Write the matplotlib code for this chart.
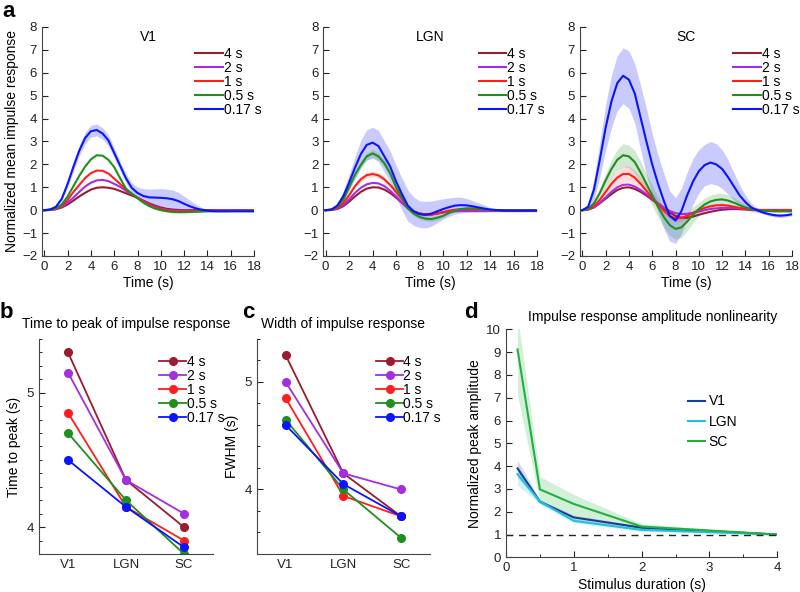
import numpy as np
import matplotlib
matplotlib.use("Agg")
import matplotlib.pyplot as plt
from matplotlib.ticker import MultipleLocator

plt.rcParams['font.family'] = ['Liberation Sans', 'DejaVu Sans']
plt.rcParams['font.size'] = 10

# ---- data -------------------------------------------------------------
durations = ['4 s', '2 s', '1 s', '0.5 s', '0.17 s']
dur_colors = ['#9b1b30', '#a52ee0', '#ff1e1e', '#1f8f1f', '#0a14ff']
t = np.arange(0, 18.5, 0.5)  # seconds, 37 samples

# panel a: mean impulse responses, one row per duration (order as durations)
v1_resp = [
    [0, 0.01, 0.04, 0.12, 0.25, 0.42, 0.6, 0.76, 0.9, 0.98,
     1.0, 0.98, 0.93, 0.84, 0.74, 0.64, 0.54, 0.42, 0.3, 0.2,
     0.12, 0.06, 0.03, 0.01, 0, 0, 0, 0, 0, 0,
     0, 0, 0, 0, 0, 0, 0],
    [0, 0.01, 0.05, 0.15, 0.33, 0.55, 0.8, 1.03, 1.2, 1.3,
     1.32, 1.27, 1.15, 1.02, 0.85, 0.7, 0.55, 0.4, 0.26, 0.15,
     0.07, 0.02, -0.01, -0.02, -0.02, -0.02, -0.02, -0.02, -0.02, -0.02,
     -0.02, -0.02, -0.02, -0.02, -0.02, -0.02, -0.02],
    [0, 0.015, 0.06, 0.2, 0.45, 0.8, 1.1, 1.4, 1.62, 1.73,
     1.72, 1.6, 1.38, 1.15, 0.9, 0.72, 0.54, 0.37, 0.23, 0.12,
     0.05, 0.0, -0.03, -0.04, -0.04, -0.04, -0.03, -0.03, -0.03, -0.02,
     -0.02, -0.02, -0.02, -0.02, -0.02, -0.02, -0.02],
    [0, 0.02, 0.08, 0.25, 0.6, 1.05, 1.5, 1.9, 2.22, 2.4,
     2.38, 2.2, 1.88, 1.4, 0.95, 0.72, 0.52, 0.33, 0.18, 0.07,
     0.0, -0.05, -0.08, -0.09, -0.09, -0.08, -0.07, -0.06, -0.05, -0.05,
     -0.04, -0.04, -0.03, -0.03, -0.03, -0.03, -0.03],
    [0, 0.03, 0.15, 0.5, 1.15, 1.9, 2.6, 3.15, 3.45, 3.5,
     3.35, 3.05, 2.5, 1.95, 1.4, 0.98, 0.75, 0.62, 0.56, 0.55,
     0.54, 0.52, 0.48, 0.4, 0.28, 0.17, 0.08, 0.02, -0.02, -0.04,
     -0.05, -0.05, -0.05, -0.05, -0.05, -0.05, -0.05],
]
v1_blue_err = [0, 0.01, 0.04, 0.1, 0.15, 0.2, 0.22, 0.25, 0.26, 0.26,
               0.25, 0.24, 0.22, 0.2, 0.2, 0.22, 0.26, 0.32, 0.36, 0.38,
               0.4, 0.4, 0.4, 0.38, 0.33, 0.26, 0.18, 0.1, 0.05, 0.03,
               0.02, 0.02, 0.02, 0.02, 0.02, 0.02, 0.02]

lgn_resp = [
    [0, 0.01, 0.05, 0.17, 0.37, 0.6, 0.8, 0.94, 1.0, 0.99,
     0.9, 0.75, 0.55, 0.32, 0.1, -0.05, -0.14, -0.18, -0.18, -0.14,
     -0.09, -0.05, -0.02, 0.0, 0.01, 0.01, 0.01, 0.0, 0, 0,
     0, 0, 0, 0, 0, 0, 0],
    [0, 0.01, 0.07, 0.22, 0.47, 0.75, 0.98, 1.13, 1.19, 1.17,
     1.05, 0.85, 0.6, 0.33, 0.08, -0.08, -0.16, -0.2, -0.18, -0.14,
     -0.1, -0.07, -0.05, -0.04, -0.04, -0.04, -0.04, -0.04, -0.04, -0.04,
     -0.04, -0.04, -0.04, -0.04, -0.04, -0.04, -0.04],
    [0, 0.02, 0.1, 0.3, 0.65, 1.05, 1.35, 1.53, 1.58, 1.52,
     1.35, 1.1, 0.8, 0.48, 0.1, -0.08, -0.17, -0.21, -0.2, -0.15,
     -0.08, -0.02, 0.02, 0.05, 0.05, 0.04, 0.03, 0.01, 0, 0,
     0, 0, 0, 0, 0, 0, 0],
    [0, 0.02, 0.15, 0.45, 1.0, 1.55, 1.98, 2.35, 2.48, 2.35,
     2.05, 1.6, 1.0, 0.55, 0.08, -0.15, -0.3, -0.37, -0.39, -0.33,
     -0.25, -0.12, -0.02, 0.05, 0.08, 0.08, 0.06, 0.03, 0.01, 0.0,
     -0.01, -0.01, -0.01, -0.01, -0.01, -0.01, -0.01],
    [0, 0.03, 0.2, 0.6, 1.2, 1.85, 2.45, 2.85, 2.95, 2.8,
     2.35, 1.9, 1.25, 0.7, 0.2, -0.05, -0.17, -0.2, -0.15, -0.05,
     0.05, 0.13, 0.2, 0.22, 0.21, 0.17, 0.12, 0.07, 0.03, 0.01,
     -0.01, -0.02, -0.02, -0.02, -0.02, -0.02, -0.02],
]
lgn_blue_err = [0, 0.02, 0.1, 0.22, 0.35, 0.48, 0.6, 0.66, 0.68, 0.68,
                0.68, 0.68, 0.7, 0.7, 0.68, 0.62, 0.58, 0.58, 0.55, 0.5,
                0.45, 0.4, 0.37, 0.35, 0.3, 0.25, 0.2, 0.15, 0.08, 0.04,
                0.02, 0.02, 0.02, 0.02, 0.02, 0.02, 0.02]
lgn_green_err = [0, 0.01, 0.04, 0.08, 0.12, 0.15, 0.16, 0.17, 0.17, 0.17,
                 0.16, 0.15, 0.13, 0.12, 0.1, 0.1, 0.1, 0.1, 0.1, 0.1,
                 0.08, 0.07, 0.06, 0.05, 0.05, 0.04, 0.03, 0.03, 0.02, 0.02,
                 0.02, 0.02, 0.02, 0.02, 0.02, 0.02, 0.02]
lgn_red_err = [0, 0.01, 0.03, 0.06, 0.08, 0.1, 0.11, 0.12, 0.12, 0.12,
               0.11, 0.1, 0.09, 0.08, 0.08, 0.07, 0.07, 0.07, 0.06, 0.06,
               0.05, 0.05, 0.04, 0.04, 0.03, 0.03, 0.03, 0.02, 0.02, 0.02,
               0.02, 0.02, 0.02, 0.02, 0.02, 0.02, 0.02]

sc_resp = [
    [0, 0.03, 0.12, 0.3, 0.5, 0.7, 0.88, 0.98, 1.0, 0.93,
     0.8, 0.64, 0.46, 0.27, 0.08, -0.1, -0.25, -0.33, -0.33, -0.28,
     -0.2, -0.13, -0.07, -0.02, 0.02, 0.04, 0.05, 0.04, 0.03, 0.02,
     0.01, 0, 0, 0, 0, 0, 0],
    [0, 0.03, 0.13, 0.32, 0.55, 0.8, 1.0, 1.11, 1.12, 1.03,
     0.88, 0.7, 0.5, 0.3, 0.12, -0.03, -0.13, -0.17, -0.16, -0.12,
     -0.06, 0.0, 0.05, 0.08, 0.1, 0.1, 0.09, 0.07, 0.05, 0.03,
     0.02, 0.01, 0.01, 0.01, 0.01, 0.01, 0.01],
    [0, 0.04, 0.18, 0.45, 0.8, 1.15, 1.42, 1.58, 1.58, 1.42,
     1.15, 0.85, 0.55, 0.25, -0.02, -0.25, -0.36, -0.33, -0.25, -0.12,
     0.0, 0.1, 0.17, 0.21, 0.22, 0.2, 0.15, 0.1, 0.06, 0.03,
     0.01, 0, 0, 0, 0, 0, 0],
    [0, 0.06, 0.3, 0.75, 1.3, 1.8, 2.2, 2.4, 2.35, 2.1,
     1.65, 1.15, 0.65, 0.15, -0.3, -0.65, -0.82, -0.75, -0.5, -0.2,
     0.05, 0.25, 0.38, 0.45, 0.47, 0.42, 0.33, 0.22, 0.12, 0.05,
     0.0, -0.03, -0.04, -0.05, -0.05, -0.05, -0.05],
    [0, 0.15, 0.9, 2.2, 3.6, 4.75, 5.55, 5.87, 5.7, 5.1,
     4.05, 3.0, 2.0, 1.15, 0.4, -0.25, -0.45, -0.05, 0.65, 1.25,
     1.7, 1.97, 2.08, 2.0, 1.8, 1.45, 1.05, 0.65, 0.35, 0.12,
     0.0, -0.1, -0.17, -0.22, -0.24, -0.22, -0.18],
]
sc_blue_err = [0, 0.12, 0.45, 0.75, 1.0, 1.15, 1.2, 1.22, 1.25, 1.3,
               1.4, 1.45, 1.35, 1.25, 1.2, 1.1, 1.0, 1.0, 1.0, 1.0,
               0.95, 0.9, 0.92, 0.9, 0.85, 0.75, 0.6, 0.45, 0.3, 0.18,
               0.1, 0.07, 0.07, 0.08, 0.08, 0.08, 0.07]
sc_green_err = [0, 0.03, 0.1, 0.2, 0.3, 0.4, 0.45, 0.5, 0.5, 0.5,
                0.48, 0.45, 0.45, 0.45, 0.45, 0.45, 0.45, 0.45, 0.4, 0.35,
                0.3, 0.28, 0.27, 0.27, 0.27, 0.25, 0.22, 0.18, 0.13, 0.08,
                0.05, 0.03, 0.03, 0.03, 0.03, 0.03, 0.03]
sc_red_err = [0, 0.02, 0.06, 0.12, 0.2, 0.27, 0.32, 0.35, 0.35, 0.33,
              0.3, 0.25, 0.2, 0.17, 0.15, 0.15, 0.15, 0.15, 0.13, 0.12,
              0.1, 0.1, 0.1, 0.1, 0.1, 0.08, 0.07, 0.05, 0.04, 0.03,
              0.02, 0.02, 0.02, 0.02, 0.02, 0.02, 0.02]

# panels b, c: per-area summaries (rows follow durations)
areas = ['V1', 'LGN', 'SC']
time_to_peak = [
    [5.30, 4.35, 4.00],
    [5.15, 4.35, 4.10],
    [4.85, 4.15, 3.90],
    [4.70, 4.20, 3.80],
    [4.50, 4.15, 3.85],
]
fwhm = [
    [5.25, 4.15, 3.75],
    [5.00, 4.15, 4.00],
    [4.85, 3.94, 3.75],
    [4.65, 4.00, 3.55],
    [4.60, 4.05, 3.75],
]

# panel d: amplitude nonlinearity
stim_dur = [0.17, 0.5, 1, 2, 4]
amp_v1 = [3.90, 2.44, 1.75, 1.30, 1.00]
amp_v1_hi = [4.25, 2.52, 1.85, 1.36, 1.00]
amp_v1_lo = [3.50, 2.36, 1.65, 1.24, 1.00]
amp_lgn = [3.65, 2.45, 1.60, 1.20, 1.00]
amp_lgn_hi = [4.00, 2.55, 1.70, 1.26, 1.00]
amp_lgn_lo = [3.15, 2.35, 1.50, 1.14, 1.00]
amp_sc = [9.12, 2.98, 2.34, 1.35, 1.00]
amp_sc_hi = [10.6, 3.55, 2.75, 1.47, 1.00]
amp_sc_lo = [7.10, 2.45, 1.85, 1.23, 1.00]
area_colors = ['#173f94', '#22c0dc', '#22b040']

# ---- figure -----------------------------------------------------------
fig = plt.figure(figsize=(8, 5.92), dpi=100)


def style(ax):
    for s in ['top', 'right']:
        ax.spines[s].set_visible(False)
    for s in ['left', 'bottom']:
        ax.spines[s].set_color('#444444')
    ax.tick_params(direction='in', length=4, labelsize=9.5, colors='#222222')
    ax.tick_params(which='minor', direction='in', length=2.5)


top_pos = [[0.0525, 0.5676, 0.265, 0.3868],
           [0.404, 0.5676, 0.2675, 0.3868],
           [0.725, 0.5676, 0.265, 0.3868]]
# (duration index, error band, alpha)
panels = [('V1', v1_resp, [(4, v1_blue_err, 0.22)]),
          ('LGN', lgn_resp, [(4, lgn_blue_err, 0.22),
                             (3, lgn_green_err, 0.2),
                             (2, lgn_red_err, 0.15)]),
          ('SC', sc_resp, [(4, sc_blue_err, 0.22),
                           (3, sc_green_err, 0.2),
                           (2, sc_red_err, 0.15)])]

for i, (name, resp, bands) in enumerate(panels):
    ax = fig.add_axes(top_pos[i])
    for k, err, a in bands:
        m = np.array(resp[k])
        e = np.array(err)
        ax.fill_between(t, m - e, m + e, color=dur_colors[k], alpha=a, lw=0)
    for k in range(5):
        ax.plot(t, resp[k], color=dur_colors[k], lw=1.5, label=durations[k])
    ax.set_xlim(-0.2, 18)
    ax.set_ylim(-2, 8)
    ax.set_xticks(range(0, 19, 2))
    ax.set_yticks(range(-2, 9))
    ax.set_xlabel('Time (s)', labelpad=2)
    if i == 0:
        ax.set_ylabel('Normalized mean impulse response', labelpad=2)
    ax.text(0.5, 0.985, name, transform=ax.transAxes, ha='center', va='top', fontsize=10)
    ax.legend(loc='upper right', bbox_to_anchor=(1.08, 0.955), frameon=False,
              fontsize=10, labelspacing=0.0, handlelength=2.0, handletextpad=0.05,
              borderpad=0.2)
    style(ax)

# b
axb = fig.add_axes([0.04875, 0.0642, 0.2175, 0.3632])
for k in range(5):
    axb.plot([1, 2, 3], time_to_peak[k], color=dur_colors[k], lw=1.3, marker='o', ms=5.5,
             label=durations[k])
axb.set_xlim(0.5, 3.5)
axb.set_ylim(3.8, 5.4)
axb.set_xticks([1, 2, 3])
axb.set_xticklabels(areas)
axb.set_yticks([4, 5])
axb.yaxis.set_minor_locator(MultipleLocator(0.1))
axb.set_ylabel('Time to peak (s)', labelpad=4)
axb.set_title('Time to peak of impulse response', fontsize=10, pad=8)
axb.legend(loc='upper right', bbox_to_anchor=(1.12, 0.97), frameon=False, fontsize=10,
           labelspacing=0.0, handlelength=1.9, handletextpad=0.05, borderpad=0.2)
style(axb)
axb.tick_params(axis='x', length=0)

# c
axc = fig.add_axes([0.3209, 0.0642, 0.2166, 0.3632])
for k in range(5):
    axc.plot([1, 2, 3], fwhm[k], color=dur_colors[k], lw=1.3, marker='o', ms=5.5,
             label=durations[k])
axc.set_xlim(0.5, 3.5)
axc.set_ylim(3.4, 5.4)
axc.set_xticks([1, 2, 3])
axc.set_xticklabels(areas)
axc.set_yticks([4, 5])
axc.yaxis.set_minor_locator(MultipleLocator(0.2))
axc.set_ylabel('FWHM (s)', labelpad=4)
axc.set_title('Width of impulse response', fontsize=10, pad=8)
axc.legend(loc='upper right', bbox_to_anchor=(1.12, 0.97), frameon=False, fontsize=10,
           labelspacing=0.0, handlelength=1.9, handletextpad=0.05, borderpad=0.2)
style(axc)
axc.tick_params(axis='x', length=0)

# d
axd = fig.add_axes([0.6325, 0.0586, 0.339, 0.3851])
for y, lo, hi, c, n in [(amp_v1, amp_v1_lo, amp_v1_hi, area_colors[0], 'V1'),
                        (amp_lgn, amp_lgn_lo, amp_lgn_hi, area_colors[1], 'LGN'),
                        (amp_sc, amp_sc_lo, amp_sc_hi, area_colors[2], 'SC')]:
    axd.fill_between(stim_dur, lo, hi, color=c, alpha=0.2, lw=0)
    axd.plot(stim_dur, y, color=c, lw=1.5, label=n)
axd.axhline(1, color='#222222', ls='--', lw=1, dashes=(5, 4))
axd.set_xlim(0, 4)
axd.set_ylim(0, 10)
axd.set_xticks([0, 1, 2, 3, 4])
axd.xaxis.set_minor_locator(MultipleLocator(0.5))
axd.set_yticks(range(0, 11))
axd.set_xlabel('Stimulus duration (s)', labelpad=3)
axd.set_ylabel('Normalized peak amplitude', labelpad=3)
axd.set_title('Impulse response amplitude nonlinearity', fontsize=10, pad=6, x=0.54)
axd.legend(loc='upper left', bbox_to_anchor=(0.645, 0.745), frameon=False, fontsize=10,
           labelspacing=0.45, handlelength=1.25, handletextpad=0.25, borderpad=0.0)
style(axd)

# panel letters
for x, y, s in [(0.003, 0.998, 'a'), (0.0, 0.49, 'b'), (0.303, 0.49, 'c'), (0.58, 0.49, 'd')]:
    fig.text(x, y, s, fontsize=16, fontweight='bold', va='top', ha='left')

fig.savefig('out.png', dpi=100)
